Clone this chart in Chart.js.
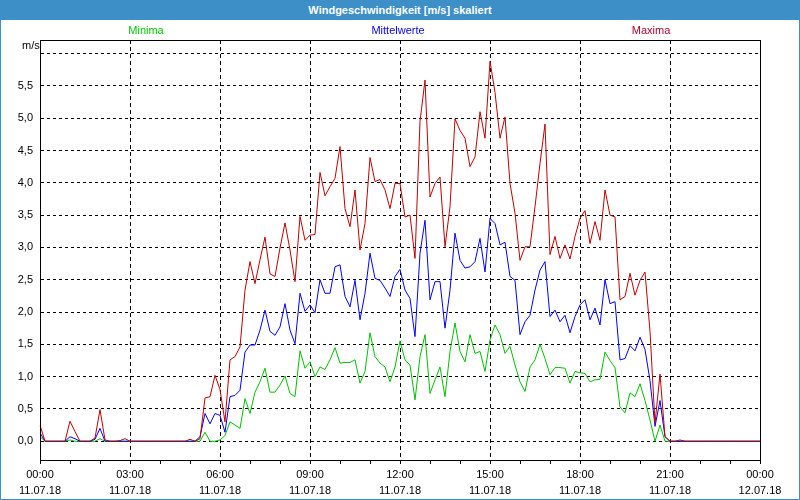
<!DOCTYPE html>
<html>
<head>
<meta charset="utf-8">
<script src="https://cdn.jsdelivr.net/npm/chart.js@4"></script>
<style>
  body { margin: 0; background: #fff; }
  #fenster { position: relative; width: 800px; height: 500px; overflow: hidden; font-family: "Liberation Sans", Arial, sans-serif; }
  #titel { position: absolute; left: 0; top: 0; width: 800px; height: 20px; background: #3d8fc7; color: #fff; font-weight: bold; font-size: 11px; line-height: 20px; text-align: center; }
  #rahmen { position: absolute; left: 0; top: 0; width: 800px; height: 500px; box-sizing: border-box; border: 1px solid #3d8fc7; border-top: none; pointer-events: none; }
  .legende { position: absolute; top: 24px; font-size: 11px; transform: translateX(-50%); white-space: nowrap; }
  #einheit { position: absolute; left: 22px; top: 39px; font-size: 11px; color: #000; }
  canvas { position: absolute; left: 0; top: 0; }
</style>
</head>
<body>
<div id="fenster">
  <canvas id="wind" width="800" height="500"></canvas>
  <div id="titel">Windgeschwindigkeit [m/s] skaliert</div>
  <div class="legende" style="left:146px; color:#00c800;">Minima</div>
  <div class="legende" style="left:398px; color:#0000ff;">Mittelwerte</div>
  <div class="legende" style="left:651px; color:#b0002a;">Maxima</div>
  <div id="einheit">m/s</div>
  <div id="rahmen"></div>
</div>
<script>

// 10-Minuten-Werte vom 11.07.18 00:00 bis 12.07.18 00:00 (je Zeile eine Stunde)
const maxima = [
    0.25, 0, 0, 0, 0, 0,
    0.31, 0.15, 0, 0, 0, 0.05,
    0.49, 0.02, 0, 0, 0.01, 0.04,
    0, 0, 0, 0, 0, 0,
    0, 0, 0, 0, 0, 0,
    0.03, 0, 0.04, 0.67, 0.69, 1.02,
    0.80, 0.30, 1.26, 1.31, 1.46, 2.34,
    2.78, 2.44, 2.81, 3.16, 2.59, 2.55,
    2.99, 3.38, 2.96, 2.47, 3.48, 3.11,
    3.19, 3.20, 4.16, 3.80, 3.94, 4.07,
    4.56, 3.60, 3.32, 3.89, 2.96, 3.37,
    4.39, 4.02, 4.05, 3.89, 3.60, 3.99,
    3.99, 3.47, 3.50, 2.83, 4.95, 5.59,
    3.78, 3.99, 4.09, 3.01, 3.63, 4.99,
    4.81, 4.69, 4.25, 4.40, 5.10, 4.69,
    5.88, 5.40, 4.69, 5.02, 3.99, 3.53,
    2.80, 3.01, 3.01, 3.63, 4.30, 4.91,
    2.89, 3.17, 2.83, 3.04, 2.82, 3.17,
    3.45, 3.57, 3.06, 3.40, 3.11, 3.89,
    3.50, 3.47, 2.19, 2.24, 2.60, 2.26,
    2.49, 2.62, 1.70, 0.28, 1.04, 0.07,
    0, 0, 0.02, 0, 0, 0,
    0, 0, 0, 0, 0, 0,
    0, 0, 0, 0, 0, 0,
    0
];

const mittelwerte = [
    0.13, 0, 0, 0, 0, 0,
    0.07, 0.04, 0, 0, 0, 0.03,
    0.20, 0, 0, 0, 0, 0,
    0, 0, 0, 0, 0, 0,
    0, 0, 0, 0, 0, 0,
    0, 0, 0.07, 0.43, 0.27, 0.43,
    0.40, 0.14, 0.69, 0.71, 0.79, 1.38,
    1.49, 1.49, 1.72, 2.03, 1.70, 1.64,
    1.77, 2.13, 1.72, 1.51, 2.29, 2.01,
    2.11, 1.99, 2.50, 2.29, 2.29, 2.70,
    2.73, 2.24, 2.08, 2.49, 1.88, 2.29,
    2.91, 2.52, 2.49, 2.37, 2.24, 2.55,
    2.66, 2.34, 2.21, 1.62, 2.91, 3.42,
    2.19, 2.47, 2.47, 1.75, 2.34, 3.22,
    2.80, 2.68, 2.70, 2.78, 3.14, 2.62,
    3.45, 3.37, 3.04, 3.08, 2.55, 2.49,
    1.65, 1.85, 1.95, 2.34, 2.65, 2.78,
    1.93, 2.03, 1.85, 1.95, 1.68, 1.93,
    2.11, 2.19, 1.88, 2.06, 1.80, 2.50,
    2.13, 2.16, 1.26, 1.28, 1.48, 1.40,
    1.61, 1.42, 0.94, 0.23, 0.63, 0.07,
    0, 0, 0, 0, 0, 0,
    0, 0, 0, 0, 0, 0,
    0, 0, 0, 0, 0, 0,
    0
];

const minima = [
    0.07, 0, 0, 0, 0, 0,
    0.02, 0, 0, 0, 0, 0,
    0.04, 0, 0, 0, 0, 0,
    0, 0, 0, 0, 0, 0,
    0, 0, 0, 0, 0, 0,
    0, 0, 0, 0.14, 0, 0,
    0.02, 0.09, 0.30, 0.25, 0.20, 0.66,
    0.43, 0.76, 0.92, 1.13, 0.76, 0.76,
    0.87, 1.01, 0.74, 0.69, 1.40, 1.13,
    1.23, 1.00, 1.15, 1.11, 1.26, 1.45,
    1.21, 1.22, 1.22, 1.26, 0.90, 1.08,
    1.68, 1.31, 1.21, 1.15, 0.92, 1.15,
    1.55, 1.26, 1.18, 0.64, 1.31, 1.65,
    0.74, 0.95, 1.15, 0.69, 1.39, 1.83,
    1.39, 1.23, 1.65, 1.36, 1.39, 1.08,
    1.57, 1.80, 1.65, 1.36, 1.47, 1.18,
    0.92, 0.77, 1.15, 1.26, 1.50, 1.28,
    1.03, 1.14, 1.14, 1.13, 0.90, 1.08,
    1.06, 1.05, 0.92, 0.95, 0.96, 1.38,
    1.25, 1.14, 0.53, 0.44, 0.75, 0.69,
    0.89, 0.63, 0.33, 0, 0.25, 0,
    0, 0, 0, 0, 0, 0,
    0, 0, 0, 0, 0, 0,
    0, 0, 0, 0, 0, 0,
    0
];

// Beschriftung der x-Achse (alle 3 Stunden)
const achsenZeiten = ['00:00', '03:00', '06:00', '09:00', '12:00', '15:00', '18:00', '21:00', '00:00'];
const achsenDaten = ['11.07.18', '11.07.18', '11.07.18', '11.07.18', '11.07.18', '11.07.18', '11.07.18', '11.07.18', '12.07.18'];

// Teilstriche der y-Achse (6,0 ohne Beschriftung)
const yWerte = [0, 0.5, 1, 1.5, 2, 2.5, 3, 3.5, 4, 4.5, 5, 5.5, 6];

// Kategorien: ein Eintrag je 10 Minuten
const zeiten = [];
for (let i = 0; i < maxima.length; i++) {
    const min = i * 10;
    const hh = String(Math.floor(min / 60) % 24).padStart(2, '0');
    const mm = String(min % 60).padStart(2, '0');
    zeiten.push(hh + ':' + mm);
}

const schrift = { family: '"Liberation Sans", Arial, sans-serif', size: 11 };

const diagrammRahmen = {
    id: 'diagrammRahmen',
    afterDraw(chart) {
        const { ctx, chartArea } = chart;
        ctx.save();
        ctx.strokeStyle = '#000';
        ctx.lineWidth = 1;
        ctx.strokeRect(Math.round(chartArea.left) + 0.5, Math.round(chartArea.top) + 0.5,
            Math.round(chartArea.right - chartArea.left), Math.round(chartArea.bottom - chartArea.top));
        ctx.restore();
    }
};

new Chart(document.querySelector('#wind'), {

    type: 'line',
    data: {
        labels: zeiten,
        datasets: [
            {
                label: 'Maxima',
                data: maxima,
                borderColor: '#c00000',
                borderWidth: 1,
                pointRadius: 0,
                tension: 0
            },
            {
                label: 'Mittelwerte',
                data: mittelwerte,
                borderColor: '#0000ff',
                borderWidth: 1,
                pointRadius: 0,
                tension: 0
            },
            {
                label: 'Minima',
                data: minima,
                borderColor: '#00c000',
                borderWidth: 1,
                pointRadius: 0,
                tension: 0
            }
        ]
    },
    options: {
        responsive: false,
        animation: false,
        layout: {
            padding: { top: 40, right: 40, left: 0, bottom: 0 }
        },
        plugins: {
            legend: { display: false },
            tooltip: { enabled: false }
        },
        scales: {
            x: {
                offset: false,
                afterFit(scale) { scale.height = 40; },
                border: { display: true, color: '#000', width: 1, dash: [4, 3] },
                grid: {
                    color: (c) => c.index % 18 === 0 ? '#000' : 'rgba(0,0,0,0)',
                    tickColor: (c) => c.index % 6 === 0 ? '#000' : 'rgba(0,0,0,0)',
                    tickLength: 4,
                    lineWidth: 1
                },
                ticks: {
                    autoSkip: false,
                    maxRotation: 0,
                    minRotation: 0,
                    padding: 3,
                    color: '#000',
                    font: { ...schrift, lineHeight: 1.45 },
                    callback: (value, index) => index % 18 === 0 ? [achsenZeiten[index / 18], achsenDaten[index / 18]] : ''
                }
            },
            y: {
                min: -0.29,
                max: 6.21,
                afterFit(scale) { scale.width = 40; },
                afterBuildTicks(scale) { scale.ticks = yWerte.map((v) => ({ value: v })); },
                border: { display: true, color: '#000', width: 1, dash: [3, 3] },
                grid: {
                    color: '#000',
                    drawTicks: false,
                    lineWidth: 1
                },
                ticks: {
                    padding: 7,
                    color: '#000',
                    font: schrift,
                    callback: (v) => v > 5.9 ? '' : v.toFixed(1).replace('.', ',')
                }
            }
        }
    },
    plugins: [diagrammRahmen]

});

</script>
</body>
</html>
